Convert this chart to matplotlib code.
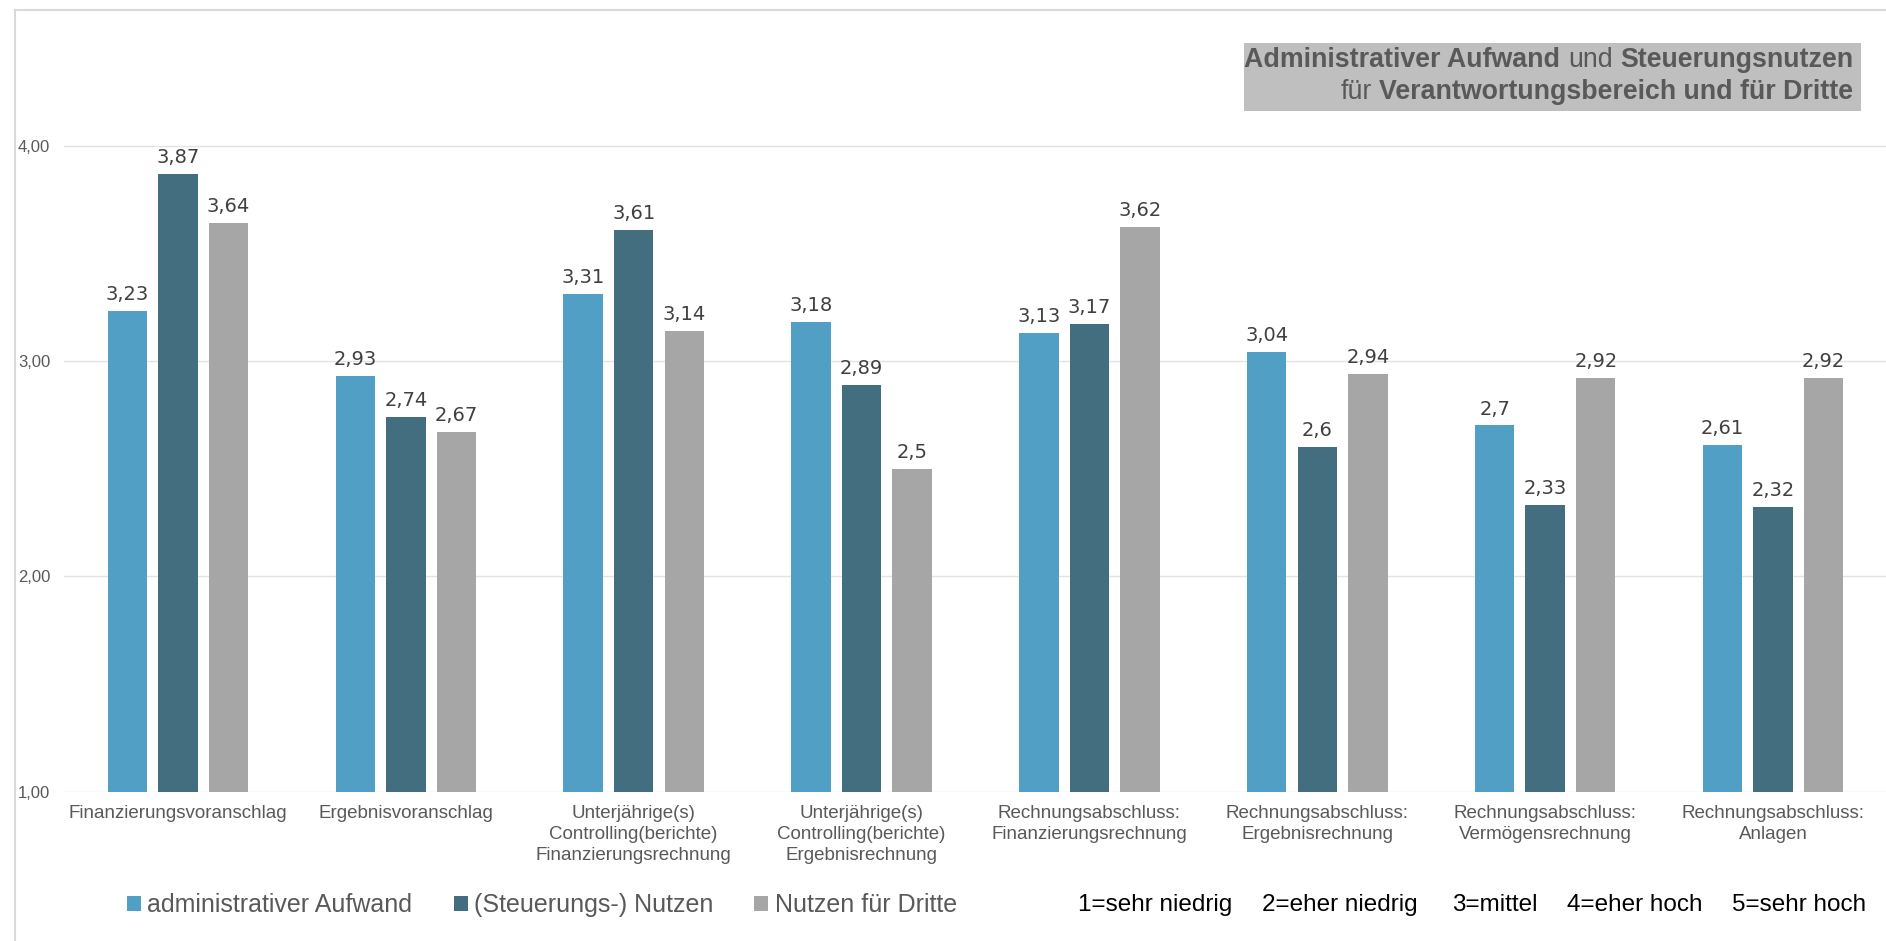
import matplotlib
matplotlib.use("Agg")
import matplotlib.pyplot as plt
from matplotlib.lines import Line2D
from matplotlib.patches import Rectangle
import numpy as np

categories = [
    "Finanzierungsvoranschlag",
    "Ergebnisvoranschlag",
    "Unterjährige(s)\nControlling(berichte)\nFinanzierungsrechnung",
    "Unterjährige(s)\nControlling(berichte)\nErgebnisrechnung",
    "Rechnungsabschluss:\nFinanzierungsrechnung",
    "Rechnungsabschluss:\nErgebnisrechnung",
    "Rechnungsabschluss:\nVermögensrechnung",
    "Rechnungsabschluss:\nAnlagen",
]
aufwand = [3.23, 2.93, 3.31, 3.18, 3.13, 3.04, 2.70, 2.61]
nutzen = [3.87, 2.74, 3.61, 2.89, 3.17, 2.60, 2.33, 2.32]
dritte = [3.64, 2.67, 3.14, 2.50, 3.62, 2.94, 2.92, 2.92]
series_names = ["administrativer Aufwand", "(Steuerungs-) Nutzen", "Nutzen für Dritte"]
series_colors = ["#529FC6", "#436E80", "#A6A6A6"]
ytick_vals = [1, 2, 3, 4]
ytick_labels = ["1,00", "2,00", "3,00", "4,00"]
scale_labels = ["1=sehr niedrig", "2=eher niedrig", "3=mittel", "4=eher hoch", "5=sehr hoch"]

W, H = 1886, 941
fig = plt.figure(figsize=(W / 100, H / 100), dpi=100)
fig.patch.set_facecolor("white")

def fx(px):
    return px / W

def fy(py):
    return 1 - py / H

# axes placement (pixels)
ax_left, ax_right = 64, 1887
ax_top, ax_bottom = 30, 791.5
px_per_unit = 215.3
ax = fig.add_axes([fx(ax_left), fy(ax_bottom), (ax_right - ax_left) / W, (ax_bottom - ax_top) / H])
ax.set_xlim(-0.5, len(categories) - 0.5)
ax.set_ylim(1, 1 + (ax_bottom - ax_top) / px_per_unit)

x = np.arange(len(categories))
bw = 0.173
off = 0.222
containers = []
for i, (vals, col, name) in enumerate(zip([aufwand, nutzen, dritte], series_colors, series_names)):
    heights = [v - 1 for v in vals]
    c = ax.bar(x + (i - 1) * off, heights, bw, bottom=1, color=col, label=name, zorder=3)
    containers.append(c)
    for xi, v in zip(x + (i - 1) * off, vals):
        lab = f"{v:.2f}".rstrip("0").rstrip(".").replace(".", ",")
        ax.annotate(lab, (xi, v), xytext=(0, 5), textcoords="offset points",
                    ha="center", va="bottom", fontsize=14, color="#404040",
                    family="DejaVu Sans")

for s in ax.spines.values():
    s.set_visible(False)
ax.set_yticks(ytick_vals)
ax.set_yticklabels(ytick_labels, fontsize=12, color="#595959", family="Liberation Sans")
ax.yaxis.grid(True, color="#E3E3E3", linewidth=1.0, zorder=0)
ax.set_axisbelow(True)
ax.tick_params(axis="y", length=0, pad=10)
ax.set_xticks(x)
ax.set_xticklabels(categories, fontsize=13.5, color="#595959", family="Liberation Sans",
                   linespacing=1.3)
ax.tick_params(axis="x", length=0, pad=10)

# chart border (left and top)
fig.add_artist(Line2D([fx(15), fx(15)], [fy(10), 0], color="#D9D9D9", linewidth=1.5))
fig.add_artist(Line2D([fx(15), 1], [fy(10), fy(10)], color="#D9D9D9", linewidth=1.5))

# title box
fig.add_artist(Rectangle((fx(1244), fy(111)), fx(1861) - fx(1244), fy(43) - fy(111),
                         facecolor="#BFBFBF", edgecolor="none"))
renderer = fig.canvas.get_renderer()
tsize = 19.3
tcol = "#595959"

def text_width(s, weight):
    t = fig.text(0, 0, s, fontsize=tsize, weight=weight, family="Liberation Sans")
    w = t.get_window_extent(renderer).width
    t.remove()
    return w

space_w = text_width("a a", "normal") - text_width("aa", "normal")

def draw_line(segments, xr, yc):
    xcur = xr
    for txt, weight in reversed(segments):
        if txt == " ":
            xcur -= space_w
            continue
        t = fig.text(fx(xcur), fy(yc), txt, ha="right", va="center", fontsize=tsize,
                     weight=weight, color=tcol, family="Liberation Sans")
        xcur -= t.get_window_extent(renderer).width

draw_line([("Administrativer Aufwand", "bold"), (" ", None), ("und", "normal"), (" ", None),
           ("Steuerungsnutzen", "bold")], 1853, 60)
draw_line([("für", "normal"), (" ", None), ("Verantwortungsbereich und für Dritte", "bold")], 1853, 92)

# legend
leg = fig.legend(handles=containers, labels=series_names, loc="center left",
                 bbox_to_anchor=(fx(127), fy(905)), ncol=3, frameon=False,
                 prop={"family": "Liberation Sans", "size": 18},
                 labelcolor="#595959", handlelength=0.56, handleheight=0.56,
                 handletextpad=0.25, columnspacing=1.65, borderpad=0, borderaxespad=0)

# scale labels
scale_x = [1078, 1262, 1452, 1567, 1732]
for sx, sl in zip(scale_x, scale_labels):
    fig.text(fx(sx), fy(905), sl, ha="left", va="center", fontsize=17.5, color="black",
             family="Liberation Sans")

fig.savefig("out.png", dpi=100, facecolor="white")
